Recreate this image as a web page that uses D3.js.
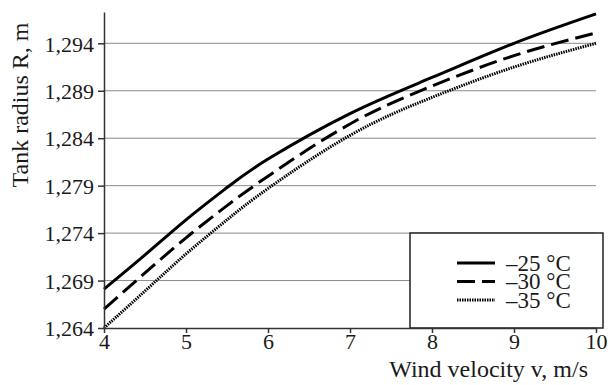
<!DOCTYPE html>
<html lang="en">
<head>
<meta charset="utf-8">
<title>Tank radius vs wind velocity</title>
<script src="https://cdn.jsdelivr.net/npm/d3@7"></script>
<style>
  html, body { margin: 0; padding: 0; background: #fff; }
  svg text { font-family: "Liberation Serif", "Times New Roman", serif; }
  .grid line { stroke: #8a8a8a; stroke-width: 1; }
  .axis path, .axis line { stroke: #333; stroke-width: 1.5; }
  .axis text { font-size: 22px; fill: #1a1a1a; }
  .curve { fill: none; stroke: #000; stroke-width: 3; }
</style>
</head>
<body>
<div id="chart"></div>
<script>
// wind velocity, m/s
var velocity = [4, 4.5, 5, 5.5, 6, 7, 8, 9, 10];
// tank radius R, m
var r25 = [1.2681, 1.2717, 1.2754, 1.2788, 1.2818, 1.2866, 1.2904, 1.2940, 1.2971];
var r30 = [1.2660, 1.2698, 1.2735, 1.2769, 1.2800, 1.2855, 1.2895, 1.2927, 1.2951];
var r35 = [1.2640, 1.2679, 1.2718, 1.2754, 1.2787, 1.2843, 1.2883, 1.2915, 1.2940];
var seriesNames = ["\u201325 \u00b0C", "\u201330 \u00b0C", "\u201335 \u00b0C"];
var yTicks = [1.264, 1.269, 1.274, 1.279, 1.284, 1.289, 1.294];
var xTicks = [4, 5, 6, 7, 8, 9, 10];

var width = 610, height = 385;
var m = {top: 12, right: 14, bottom: 57, left: 104};
var serif = "'Liberation Serif', 'Times New Roman', serif";

var svg = d3.select("#chart").append("svg")
    .attr("width", width)
    .attr("height", height);

var x = d3.scaleLinear().domain([4, 10]).range([m.left, width - m.right]);
var y = d3.scaleLinear().domain([1.264, 1.2973]).range([height - m.bottom, m.top]);

var fmt = function(d) { return d3.format(".3f")(d).replace(".", ","); };

// gridlines
svg.append("g").attr("class", "grid")
  .selectAll("line")
  .data(yTicks.slice(1))
  .enter().append("line")
    .attr("x1", x(4)).attr("x2", x(10))
    .attr("y1", function(d) { return y(d); })
    .attr("y2", function(d) { return y(d); });

var styles = [
  {dash: null, width: 3},
  {dash: "18,7", width: 3},
  {dash: "1.5,1", width: 3}
];
var allSeries = [r25, r30, r35];

var line = d3.line()
  .x(function(d, i) { return x(velocity[i]); })
  .y(function(d) { return y(d); })
  .curve(d3.curveNatural);

svg.append("g").selectAll("path")
  .data(allSeries)
  .enter().append("path")
    .attr("class", "curve")
    .attr("d", line)
    .attr("stroke-width", function(d, i) { return styles[i].width; })
    .attr("stroke-dasharray", function(d, i) { return styles[i].dash; });

// legend
var lg = svg.append("g");
lg.append("rect")
  .attr("x", 410).attr("y", 233)
  .attr("width", 193).attr("height", y(1.264) - 233)
  .attr("fill", "#fff").attr("stroke", "#222").attr("stroke-width", 1.5);
seriesNames.forEach(function(name, i) {
  var ly = 263 + i * 18.5;
  lg.append("line")
    .attr("x1", 457).attr("x2", 495)
    .attr("y1", ly).attr("y2", ly)
    .attr("stroke", "#000")
    .attr("stroke-width", styles[i].width)
    .attr("stroke-dasharray", styles[i].dash);
  lg.append("text")
    .attr("x", 506).attr("y", ly + 7.5)
    .attr("font-family", serif)
    .attr("font-size", 23)
    .attr("fill", "#1a1a1a")
    .text(name);
});

// axes
svg.append("g").attr("class", "axis")
  .attr("transform", "translate(0," + y(1.264) + ")")
  .call(d3.axisBottom(x).tickValues(xTicks).tickSize(5).tickSizeOuter(0).tickFormat(d3.format("d")))
  .attr("font-family", serif)
  .call(function(g) { g.selectAll("text").attr("dy", "0.6em"); });

svg.append("g").attr("class", "axis")
  .attr("transform", "translate(" + x(4) + ",0)")
  .call(d3.axisLeft(y).tickValues(yTicks).tickSize(6).tickSizeOuter(0).tickFormat(fmt))
  .attr("font-family", serif)
  .call(function(g) { g.selectAll("text").attr("x", -10).attr("dy", "0.35em"); });

svg.append("text")
  .attr("transform", "translate(28," + 105 + ") rotate(-90)")
  .attr("text-anchor", "middle")
  .attr("font-family", serif)
  .attr("font-size", 24)
  .attr("fill", "#1a1a1a")
  .text("Tank radius R, m");

svg.append("text")
  .attr("x", 588).attr("y", 377)
  .attr("text-anchor", "end")
  .attr("font-family", serif)
  .attr("font-size", 24)
  .attr("fill", "#1a1a1a")
  .text("Wind velocity v, m/s");
</script>
</body>
</html>
